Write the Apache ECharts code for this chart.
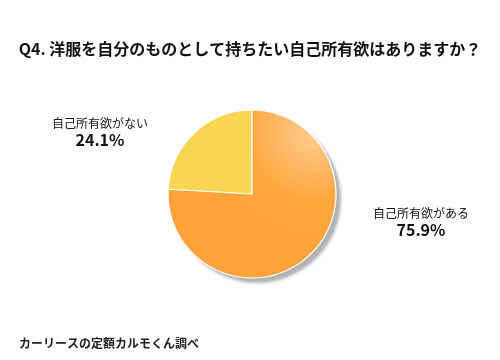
<!DOCTYPE html>
<html>
<head>
<meta charset="utf-8">
<script src="https://cdn.jsdelivr.net/npm/echarts@6/dist/echarts.min.js"></script>
<style>html,body{margin:0;padding:0;background:#fff}#c{width:500px;height:360px}</style>
</head>
<body>
<div id="c"></div>
<script>
const titleText = 'Q4. 洋服を自分のものとして持ちたい自己所有欲はありますか？';
const sourceText = 'カーリースの定額カルモくん調べ';
const categories = ['自己所有欲がない', '自己所有欲がある'];
const values = [24.1, 75.9];

const FONT = '"Noto Sans CJK JP", "Noto Sans", sans-serif';
const chart = echarts.init(document.getElementById('c'), null, {renderer: 'canvas'});
const colors = [
  '#F8D553',
  {type: 'radial', x: 0.88, y: 0.12, r: 0.75, colorStops: [
    {offset: 0, color: '#FFCF95'},
    {offset: 0.55, color: '#FFA73F'},
    {offset: 1, color: '#FFA23A'}
  ]}
];
const labelPos = [[100, 132], [421, 222]];
chart.setOption({
  backgroundColor: '#ffffff',
  animation: false,
  title: [{
    text: titleText, left: 'center', top: 36,
    textStyle: {fontFamily: FONT, fontSize: 16, fontWeight: 'bold', color: '#111'}
  }, {
    text: sourceText, left: 14, top: 332,
    textStyle: {fontFamily: FONT, fontSize: 12, fontWeight: 'bold', color: '#222'}
  }],
  series: [{
    type: 'pie',
    silent: true,
    center: [252, 194],
    radius: [0, 84],
    data: [{value: 1, name: 'shadow'}],
    itemStyle: {
      color: '#ffffff',
      shadowColor: 'rgba(0,0,0,0.3)', shadowOffsetX: 5, shadowOffsetY: 5, shadowBlur: 3
    },
    label: {show: false},
    labelLine: {show: false},
    emphasis: {disabled: true}
  }, {
    type: 'pie',
    center: [252, 194],
    radius: [0, 84],
    startAngle: 90,
    clockwise: false,
    data: categories.map((n, i) => ({
      name: n, value: values[i],
      itemStyle: {color: colors[i]}
    })),
    itemStyle: {borderColor: '#ffffff', borderWidth: 1.2},
    emphasis: {disabled: true},
    label: {
      show: true, position: 'outside',
      formatter: p => '{a|' + p.name + '}\n{b|' + p.value.toFixed(1) + '%}',
      rich: {
        a: {fontFamily: FONT, fontSize: 12, color: '#111', lineHeight: 16, align: 'center'},
        b: {fontFamily: FONT, fontSize: 16, fontWeight: 'bold', color: '#111', lineHeight: 18, align: 'center'}
      }
    },
    labelLine: {show: false},
    labelLayout: p => ({x: labelPos[p.dataIndex][0], y: labelPos[p.dataIndex][1], align: 'center', verticalAlign: 'middle'})
  }]
});
</script>
</body>
</html>
